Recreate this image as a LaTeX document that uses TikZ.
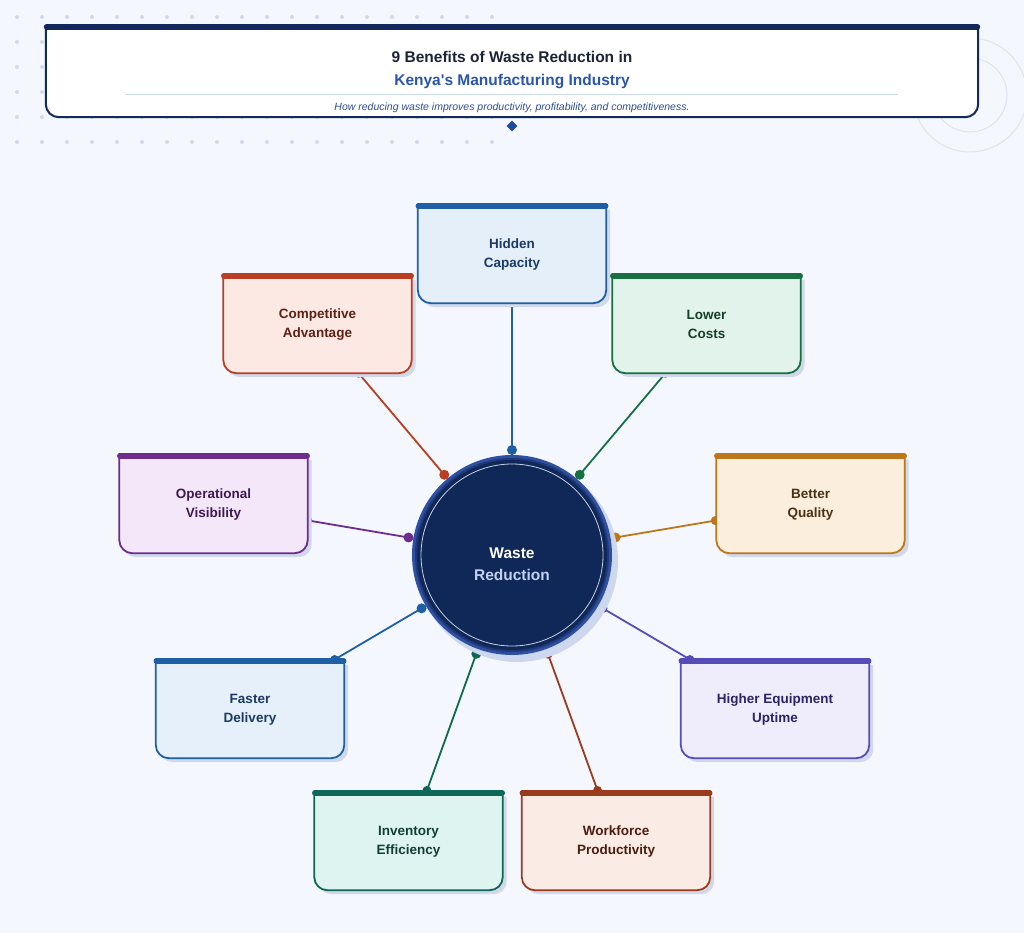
\documentclass[tikz,border=0pt]{standalone}
\usepackage{fontspec}
\setmainfont{Liberation Sans}
\newfontfamily\lsans{Liberation Sans}
\usetikzlibrary{calc,shapes.geometric}
\pgfdeclarelayer{bg}\pgfdeclarelayer{lines}\pgfdeclarelayer{boxes}
\pgfsetlayers{bg,lines,boxes,main}

\definecolor{pagebg}{HTML}{F4F7FD}
\definecolor{dotc}{HTML}{D0DAEE}
\definecolor{decoc}{HTML}{DCE4F4}
\definecolor{navy}{HTML}{13295B}
\definecolor{titlec}{HTML}{1D2235}
\definecolor{titleblue}{HTML}{2A55AD}
\definecolor{subc}{HTML}{2F4C95}
\definecolor{divc}{HTML}{CAD8F0}
\definecolor{diac}{HTML}{1E4A9E}
\definecolor{hubshadow}{HTML}{CDD8EE}
\definecolor{hubring}{HTML}{2F50A0}
\definecolor{hubringb}{HTML}{1E3878}
\definecolor{hubfill}{HTML}{0F2857}
\definecolor{hubline}{HTML}{C5D0E8}
\definecolor{hubtxtb}{HTML}{C3D1F1}
\definecolor{boxshadow}{HTML}{D0D8EA}
% box colours: border / fill / text
\definecolor{bdA}{HTML}{1F5FA6}\definecolor{fiA}{HTML}{E5EFFA}\definecolor{txA}{HTML}{1B3A66}
\definecolor{bdB}{HTML}{B93E22}\definecolor{fiB}{HTML}{FCE9E3}\definecolor{txB}{HTML}{5C2216}
\definecolor{bdC}{HTML}{17703F}\definecolor{fiC}{HTML}{E1F3EA}\definecolor{txC}{HTML}{163F28}
\definecolor{bdD}{HTML}{6E2C8C}\definecolor{fiD}{HTML}{F4E7FA}\definecolor{txD}{HTML}{3D1A52}
\definecolor{bdE}{HTML}{BE7619}\definecolor{fiE}{HTML}{FBEEDC}\definecolor{txE}{HTML}{4A3216}
\definecolor{bdF}{HTML}{1F5FA6}\definecolor{fiF}{HTML}{E6F0FA}\definecolor{txF}{HTML}{1B3A66}
\definecolor{bdG}{HTML}{574BB8}\definecolor{fiG}{HTML}{EFEDFC}\definecolor{txG}{HTML}{2B2466}
\definecolor{bdH}{HTML}{0F6757}\definecolor{fiH}{HTML}{DDF4F0}\definecolor{txH}{HTML}{133F37}
\definecolor{bdI}{HTML}{9B3B1E}\definecolor{fiI}{HTML}{FBEBE5}\definecolor{txI}{HTML}{4B1C10}

\newcommand\drawbenefitbox[3]{%
  \fill[boxshadow] ($(#1.north west)+(4pt,-4pt)$) -- ($(#1.south west)+(4pt,9pt)$)
    arc[start angle=180,end angle=270,radius=13pt] -- ($(#1.south east)+(-9pt,-4pt)$)
    arc[start angle=270,end angle=360,radius=13pt] -- ($(#1.north east)+(4pt,-4pt)$) -- cycle;
  \filldraw[draw=#2, fill=#3, line width=1.8pt] (#1.north west) -- ($(#1.south west)+(0pt,13pt)$)
    arc[start angle=180,end angle=270,radius=13pt] -- ($(#1.south east)+(-13pt,0pt)$)
    arc[start angle=270,end angle=360,radius=13pt] -- (#1.north east) -- cycle;
  \draw[#2, line width=5.5pt, line cap=round] ($(#1.north west)+(0.5pt,0pt)$) -- ($(#1.north east)+(-0.5pt,0pt)$);
}

\begin{document}
\begin{tikzpicture}[x=1pt,y=-1pt,
  bnode/.style={rectangle, minimum width=188pt, minimum height=97pt, inner sep=0pt, align=center,
    font=\lsans\bfseries\fontsize{13.5}{19}\selectfont},
  conn/.style={line width=1.8pt},
  hubtxt/.style={anchor=base, font=\lsans\bfseries\fontsize{15.5}{18}\selectfont}
]
\useasboundingbox (0,0) rectangle (1024,933);
\begin{pgfonlayer}{bg}
  \fill[pagebg] (0,0) rectangle (1024,933);
  \foreach \i in {0,...,19} \foreach \j in {0,...,5} \fill[dotc] (17+25*\i,17+25*\j) circle (2pt);
  \draw[decoc, line width=1pt] (970,95) circle (57pt);
  \draw[decoc, line width=1pt] (970,95) circle (37pt);
\end{pgfonlayer}

% header
\node[inner sep=0pt, minimum width=932pt, minimum height=90pt] (header) at (512,72) {};
\begin{pgfonlayer}{boxes}
  \filldraw[fill=white, draw=navy, line width=2pt] (header.north west) -- ($(header.south west)+(0pt,13pt)$)
    arc[start angle=180,end angle=270,radius=13pt] -- ($(header.south east)+(-13pt,0pt)$)
    arc[start angle=270,end angle=360,radius=13pt] -- (header.north east) -- cycle;
  \draw[navy, line width=6pt, line cap=round] ($(header.north west)+(1pt,0pt)$) -- ($(header.north east)+(-1pt,0pt)$);
  \draw[divc, line width=0.9pt] (125,94) -- (898,94);
\end{pgfonlayer}
\node[anchor=base, font=\lsans\bfseries\fontsize{15.5}{18}\selectfont, text=titlec] (t1) at (512,62.5) {9 Benefits of Waste Reduction in};
\node[anchor=base, font=\lsans\bfseries\fontsize{15.5}{18}\selectfont, text=titleblue] (t2) at (512,85.5) {Kenya's Manufacturing Industry};
\node[anchor=base, font=\lsans\itshape\fontsize{10.5}{12}\selectfont, text=subc] (t3) at (512,110.5) {How reducing waste improves productivity, profitability, and competitiveness.};
\node[diamond, fill=diac, minimum size=11pt, inner sep=0pt] (dia) at (512,126) {};

% hub
\node[circle, minimum size=200pt, inner sep=0pt] (hub) at (512,555) {};
\begin{pgfonlayer}{boxes}
  \fill[hubshadow] ($(hub.center)+(5pt,-6pt)$) circle (101pt);
  \fill[hubring] (hub.center) circle (100pt);
  \fill[hubringb] (hub.center) circle (97pt);
  \fill[hubfill] (hub.center) circle (95pt);
  \draw[hubline, line width=0.8pt] (hub.center) circle (91pt);
\end{pgfonlayer}
\node[hubtxt, text=white] (hubA) at (512,558.5) {Waste};
\node[hubtxt, text=hubtxtb] (hubB) at (512,580.5) {Reduction};

% benefit boxes
\node[bnode, text=txA] (b1) at (512,254.5) {Hidden\\Capacity};
\node[bnode, text=txB] (b2) at (317.5,324.5) {Competitive\\Advantage};
\node[bnode, text=txC] (b3) at (706.5,324.5) {Lower\\Costs};
\node[bnode, text=txD] (b4) at (213.5,504.5) {Operational\\Visibility};
\node[bnode, text=txE] (b5) at (810.5,504.5) {Better\\Quality};
\node[bnode, text=txF] (b6) at (250,709.5) {Faster\\Delivery};
\node[bnode, text=txG] (b7) at (775,709.5) {Higher Equipment\\Uptime};
\node[bnode, text=txH] (b8) at (408.5,841.5) {Inventory\\Efficiency};
\node[bnode, text=txI] (b9) at (616,841.5) {Workforce\\Productivity};

\begin{pgfonlayer}{boxes}
  \foreach \n/\k in {1/A,2/B,3/C,4/D,5/E,6/F,7/G,8/H,9/I}{
    \drawbenefitbox{b\n}{bd\k}{fi\k}
  }
\end{pgfonlayer}

% connectors
\begin{pgfonlayer}{lines}
  \foreach \n/\k/\s in {1/A/0,2/B/0,3/C/0,4/D/0,5/E/1,6/F/2.5,7/G/2.5,8/H/2.5,9/I/2.5}{
    \draw[conn, draw=bd\k] (hub) -- (b\n) coordinate[pos=1] (e\n);
    \fill[bd\k] ($(hub.center)!105pt!(b\n.center)$) circle (5pt);
    \fill[bd\k] ($(e\n)!\s pt!(hub.center)$) circle (4.5pt);
  }
\end{pgfonlayer}
\end{tikzpicture}
\end{document}
